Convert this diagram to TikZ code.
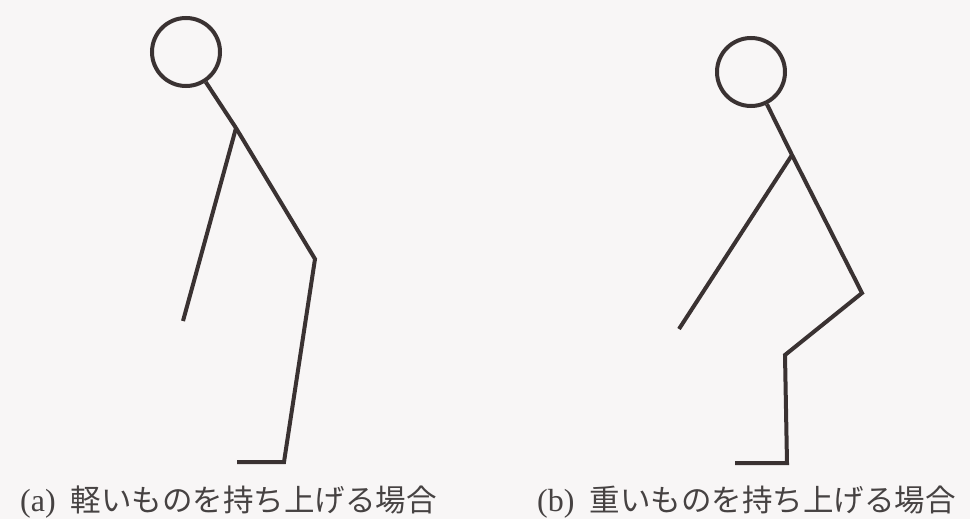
\documentclass[tikz,border=0pt]{standalone}
\usepackage{fontspec}
\setmainfont{Liberation Serif}
\newfontfamily\jafont{Noto Sans CJK JP}
\usepackage{tikz}
\usetikzlibrary{positioning}
\definecolor{ink}{RGB}{58,50,50}
\definecolor{paper}{RGB}{248,246,246}
\definecolor{captext}{RGB}{70,66,66}

\begin{document}
\begin{tikzpicture}[
    x=1pt, y=-1pt,
    limb/.style={draw=ink, line width=4pt},
    head/.style={circle, draw=ink, line width=4pt, minimum size=68pt, inner sep=0pt},
    caption/.style={anchor=base west, inner sep=0pt, text=captext, font=\fontsize{32}{32}\selectfont}
    ]

\fill[paper] (0,0) rectangle (970,519);
\useasboundingbox (0,0) rectangle (970,519);

%Left figure, light load
\node[head] (headA) at (186,52) {};
\coordinate (shoulderA) at (236,128);
\coordinate (handA) at (183,321);
\coordinate (hipA) at (315,259);
\coordinate (ankleA) at (284,462);
\coordinate (toeA) at (237,462);
\draw[limb] (headA) -- (shoulderA) -- (hipA) -- (ankleA) -- (toeA);
\draw[limb] (shoulderA) -- (handA);

%Right figure, heavy load
\node[head] (headB) at (751,72) {};
\coordinate (shoulderB) at (792,155);
\coordinate (handB) at (679,329);
\coordinate (hipB) at (862,293);
\coordinate (kneeB) at (785,355);
\coordinate (ankleB) at (787,463);
\coordinate (toeB) at (735,463);
\draw[limb] (headB) -- (shoulderB) -- (hipB) -- (kneeB) -- (ankleB) -- (toeB);
\draw[limb] (shoulderB) -- (handB);

%captions
\node[caption] (capA) at (20,511) {(a)\hspace{15pt}{\jafont\fontsize{30.5}{30.5}\selectfont 軽いものを持ち上げる場合}};
\node[caption] (capB) at (537,511) {(b)\hspace{15pt}{\jafont\fontsize{30.5}{30.5}\selectfont 重いものを持ち上げる場合}};
\end{tikzpicture}
\end{document}
